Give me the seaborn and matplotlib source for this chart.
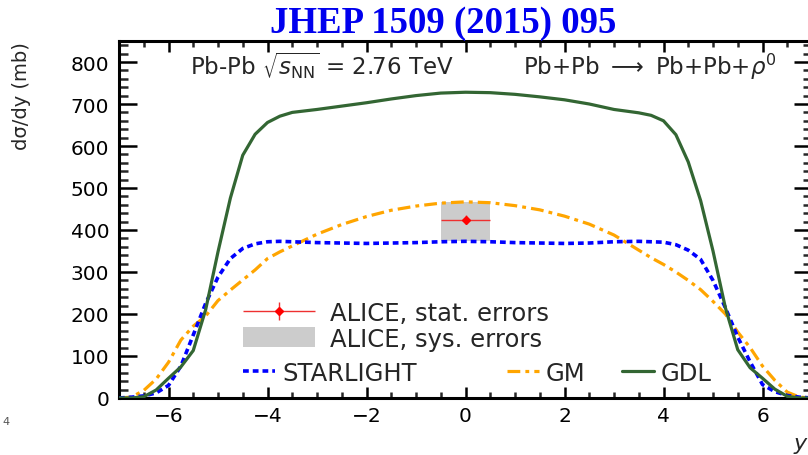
import matplotlib
matplotlib.use("Agg")
import numpy as np
import pandas as pd
import seaborn as sns
import matplotlib.pyplot as plt
from matplotlib.patches import Patch
from matplotlib.ticker import MultipleLocator
from matplotlib.container import ErrorbarContainer
from matplotlib.legend_handler import HandlerErrorbar

sns.set_theme(style="white")
plt.rcParams['font.family'] = ['DejaVu Sans']
plt.rcParams['mathtext.fontset'] = 'dejavusans'

# ---------------- data ----------------
rapidity = [-7.0, -6.75, -6.5, -6.25, -6.0, -5.75, -5.5, -5.25, -5.0, -4.75, -4.5, -4.25,
            -4.0, -3.75, -3.5, -3.0, -2.5, -2.0, -1.5, -1.0, -0.5, 0.0,
            0.5, 1.0, 1.5, 2.0, 2.5, 3.0, 3.5, 3.75, 4.0, 4.25, 4.5, 4.75,
            5.0, 5.25, 5.5, 5.75, 6.0, 6.25, 6.5, 6.75, 7.0]
starlight = [0, 2, 5, 12, 30, 76, 150, 225, 288, 332, 356, 367,
             372, 373, 372, 370, 369, 368, 369, 370, 372, 373,
             372, 370, 369, 368, 369, 372, 373, 372, 371, 365, 352, 330,
             280, 215, 145, 86, 32, 15, 6, 2, 0]
gm = [0, 2, 18, 45, 85, 138, 171, 195, 232, 257, 281, 305,
      332, 348, 362, 390, 413, 432, 447, 457, 464, 467,
      465, 458, 448, 433, 414, 388, 352, 334, 318, 300, 280, 258,
      230, 200, 157, 120, 76, 42, 14, 2, 0]
gdl = [0, 0, 3, 19, 47, 74, 113, 210, 348, 476, 578, 628,
       656, 671, 680, 687, 695, 703, 712, 720, 726, 728,
       727, 723, 717, 710, 700, 687, 679, 673, 660, 627, 562, 470,
       350, 215, 115, 72, 47, 21, 4, 0, 0]

alice_y = [0.0]
alice_xerr = [0.5]
alice_val = [425.0]
alice_stat = [10.0]
alice_sys_low = [50.0]
alice_sys_high = [42.0]

model_names = ["STARLIGHT", "GM", "GDL"]

# ---------------- figure ----------------
W, H = 808, 456
fig = plt.figure(figsize=(W / 100, H / 100), dpi=100)
fig.patch.set_facecolor("white")
ax = fig.add_axes([119 / W, (H - 399) / H, (812 - 119) / W, (399 - 42) / H])
ax.set_facecolor("white")

df = pd.DataFrame({"y": rapidity, "STARLIGHT": starlight, "GM": gm, "GDL": gdl})

# systematic box
sys_bottom = [v - lo for v, lo in zip(alice_val, alice_sys_low)]
sys_height = [lo + hi for lo, hi in zip(alice_sys_low, alice_sys_high)]
ax.bar(alice_y, sys_height, bottom=sys_bottom, width=[2 * e for e in alice_xerr],
       color="#cccccc", edgecolor="none", zorder=1)

sns.lineplot(data=df, x="y", y="GM", ax=ax, color="#ffa500", lw=2.3,
             linestyle=(0, (4.0, 1.6, 1.2, 1.6)), zorder=2)
sns.lineplot(data=df, x="y", y="STARLIGHT", ax=ax, color="#0000ff", lw=2.6,
             linestyle=(0, (1.6, 1.1)), zorder=3)
sns.lineplot(data=df, x="y", y="GDL", ax=ax, color="#336633", lw=2.3, zorder=4)

err = ax.errorbar(alice_y, alice_val, xerr=alice_xerr, yerr=alice_stat, fmt="D",
                  color="#ff0000", ecolor="#ee3030", elinewidth=1.0, ms=4.5,
                  capsize=0, zorder=5)

ax.set_xlim(-7, 7)
ax.set_ylim(0, 850)
ax.xaxis.set_major_locator(MultipleLocator(2))
ax.xaxis.set_minor_locator(MultipleLocator(0.5))
ax.yaxis.set_major_locator(MultipleLocator(100))
ax.yaxis.set_minor_locator(MultipleLocator(20))

for s in ax.spines.values():
    s.set_linewidth(2.2)
    s.set_color("black")

ax.tick_params(axis="x", which="major", direction="in", length=8, width=1.8,
               top=True, bottom=True, labelsize=14.5, pad=6, colors="black")
ax.tick_params(axis="x", which="minor", direction="in", length=4.3, width=1.8,
               top=True, bottom=True)
ax.tick_params(axis="y", which="major", direction="in", length=13, width=1.8,
               left=True, right=True, labelsize=14.5, pad=7, colors="black")
ax.tick_params(axis="y", which="minor", direction="in", length=6.5, width=1.8,
               left=True, right=True)
ax.set_ylabel("")
ax.set_xlabel("y", fontsize=16, fontstyle="italic", va="center", ha="center")
ax.xaxis.set_label_coords((800 - 119) / 693, (399 - 444) / 357)

fig.text(22 / W, 1 - 42 / H, "dσ/dy (mb)", rotation=90, ha="center", va="top",
         fontsize=14)

# title
fig.text(443 / W, 1 - 33 / H, "JHEP 1509 (2015) 095", ha="center", va="baseline",
         fontsize=26.5, fontweight="bold", family="Liberation Serif", color="#0000ee")

# header annotation
base = (399 - 75) / 357
def axx(px):
    return (px - 119) / 693
ax.text(axx(322), base, r"Pb-Pb $\sqrt{s_{\mathrm{NN}}}$ = 2.76 TeV",
        transform=ax.transAxes, fontsize=16.5, ha="center", va="baseline")
ax.text(axx(650), base, r"Pb+Pb $\longrightarrow$ Pb+Pb+$\rho^{0}$",
        transform=ax.transAxes, fontsize=16.5, ha="center", va="baseline")

# stray cropped label at far left
fig.text(2 / W, 1 - 422 / H, "4", fontsize=8, color="#555555", ha="left", va="center")

# ---------------- legends ----------------
fs = 17.5
fs_px = fs / 0.72
leg1 = ax.legend([err, Patch(facecolor="#cccccc", edgecolor="none")],
                 ["ALICE, stat. errors", "ALICE, sys. errors"],
                 loc="center left", bbox_to_anchor=((243 - 119) / 693, (399 - 327) / 357),
                 bbox_transform=ax.transAxes, frameon=False, fontsize=fs,
                 borderpad=0, borderaxespad=0, handlelength=72 / fs_px,
                 handleheight=22 / fs_px, handletextpad=15 / fs_px, labelspacing=0.05,
                 handler_map={ErrorbarContainer: HandlerErrorbar(xerr_size=36 / fs_px,
                                                                  yerr_size=0.38)})
ax.add_artist(leg1)

model_lines = ax.get_lines()[:3]
# lines were added in order GM, STARLIGHT, GDL
handles = {"GM": model_lines[0], "STARLIGHT": model_lines[1], "GDL": model_lines[2]}
xpos = {"STARLIGHT": 243, "GM": 507, "GDL": 622}
legs = []
for name in model_names:
    lg = ax.legend([handles[name]], [name], loc="center left",
                   bbox_to_anchor=((xpos[name] - 119) / 693, (399 - 374) / 357),
                   bbox_transform=ax.transAxes, frameon=False, fontsize=fs,
                   borderpad=0, borderaxespad=0, handlelength=32 / fs_px,
                   handletextpad=7 / fs_px)
    legs.append(lg)
for lg in legs[:-1]:
    ax.add_artist(lg)

fig.savefig("out.png", dpi=100, facecolor="white")
